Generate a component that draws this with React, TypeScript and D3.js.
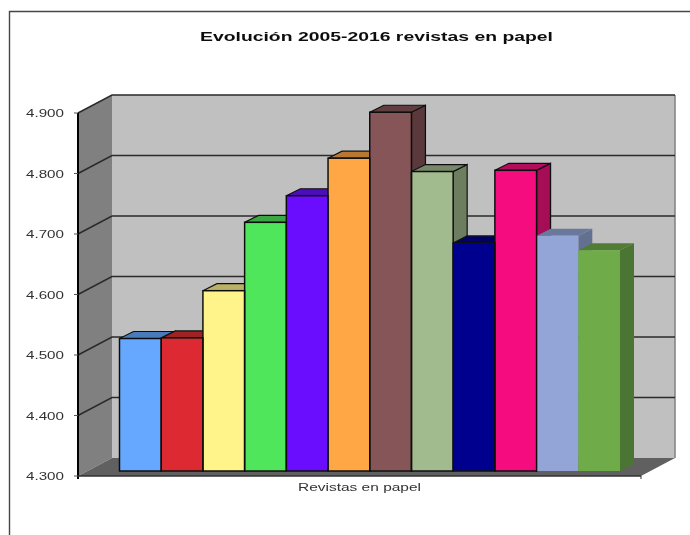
import { useEffect, useRef } from 'react';
import * as d3 from 'd3';

const YEARS = ['2005', '2006', '2007', '2008', '2009', '2010', '2011', '2012', '2013', '2014', '2015', '2016'];
const VALUES = [4519, 4520, 4598, 4711, 4755, 4817, 4893, 4795, 4677, 4797, 4689, 4665];
const COLORS = [
  '#66a8ff', '#dd2c30', '#fff48a', '#50e65c', '#6a0dff', '#ffa644',
  '#855558', '#a2bb8e', '#00008f', '#f50a80', '#93a5d6', '#70ab48',
];
const NO_OUTLINE = ['2015', '2016'];
const TICKS = [4300, 4400, 4500, 4600, 4700, 4800, 4900];
const TITLE = 'Evolución 2005-2016 revistas en papel';
const CATEGORY = 'Revistas en papel';

const WIDTH = 690;
const HEIGHT = 535;

export default function App() {
  const svgRef = useRef<SVGSVGElement>(null);

  useEffect(() => {
    if (!svgRef.current) return;
    const svg = d3.select(svgRef.current);
    svg.selectAll('*').remove();

    const defs = svg.append('defs');
    defs.append('filter').attr('id', 'soft')
      .append('feGaussianBlur').attr('stdDeviation', 0.5);

    const root = svg.append('g').attr('filter', 'url(#soft)');

    // chart frame, runs off the page on the right and at the bottom
    root.append('path')
      .attr('d', `M9.5,${HEIGHT} V11.5 H${WIDTH}`)
      .attr('fill', 'none').attr('stroke', '#444').attr('stroke-width', 1.4);

    const left = 78;
    const right = 641;
    const depthX = 34;
    const depthY = 18;
    const y = d3.scaleLinear().domain([4300, 4900]).range([476, 113]);

    const poly = (pts: number[][]) => d3.line()(pts as [number, number][]) + 'Z';

    // walls and floor
    root.append('path')
      .attr('d', poly([[left, y(4300)], [left + depthX, y(4300) - depthY], [left + depthX, y(4900) - depthY], [left, y(4900)]]))
      .attr('fill', '#808080');
    root.append('rect')
      .attr('x', left + depthX).attr('y', y(4900) - depthY)
      .attr('width', right - left).attr('height', y(4300) - y(4900))
      .attr('fill', '#c0c0c0');
    root.append('path')
      .attr('d', poly([[left, y(4300)], [left + depthX, y(4300) - depthY], [right + depthX, y(4300) - depthY], [right, y(4300)]]))
      .attr('fill', '#606060');

    // wall edges
    root.append('line')
      .attr('x1', right + depthX).attr('x2', right + depthX)
      .attr('y1', y(4900) - depthY).attr('y2', y(4300) - depthY)
      .attr('stroke', '#808080').attr('stroke-width', 1.5);

    // gridlines, back wall plus the return on the side wall
    const gridTicks = TICKS.filter(t => t > 4300);
    root.selectAll('path.grid').data(gridTicks).join('path')
      .attr('class', 'grid')
      .attr('d', t => `M${left},${y(t)} L${left + depthX},${y(t) - depthY} H${right + depthX}`)
      .attr('fill', 'none').attr('stroke', '#2a2a2a').attr('stroke-width', 1.5);

    // axis lines and ticks
    root.append('line')
      .attr('x1', left).attr('x2', left).attr('y1', y(4900)).attr('y2', y(4300) + 3)
      .attr('stroke', '#000').attr('stroke-width', 2);
    root.append('line')
      .attr('x1', left).attr('x2', right).attr('y1', y(4300)).attr('y2', y(4300))
      .attr('stroke', '#333').attr('stroke-width', 1.5);
    root.append('line')
      .attr('x1', right).attr('x2', right).attr('y1', y(4300)).attr('y2', y(4300) + 3)
      .attr('stroke', '#333').attr('stroke-width', 1);
    root.selectAll('line.tick').data(TICKS).join('line')
      .attr('class', 'tick')
      .attr('x1', left - 4).attr('x2', left).attr('y1', t => y(t)).attr('y2', t => y(t))
      .attr('stroke', '#555').attr('stroke-width', 1);

    root.selectAll('text.tick-label').data(TICKS).join('text')
      .attr('class', 'tick-label')
      .attr('x', 26).attr('y', t => y(t) + 4)
      .attr('textLength', 38).attr('lengthAdjust', 'spacingAndGlyphs')
      .attr('font-family', 'Liberation Sans').attr('font-size', 11).attr('fill', '#333')
      .text(t => d3.format('.3f')(t / 1000));

    // bars stand a little behind the front edge of the floor
    const barShiftX = 9.5;
    const barShiftY = 5;
    const barDepthX = 14;
    const barDepthY = 7;
    const x = d3.scaleBand<string>().domain(YEARS).range([left + barShiftX + 32, right + barShiftX - 30.5]);
    const w = x.bandwidth();
    const rows = YEARS.map((year, i) => ({ year, value: VALUES[i], color: COLORS[i] }));

    const bars = root.selectAll('g.bar').data(rows).join('g').attr('class', 'bar');
    const outline = (d: { year: string }) => (NO_OUTLINE.includes(d.year) ? 'none' : '#111');
    const base = y(4300) - barShiftY;
    const top = (v: number) => y(v) - barShiftY;

    bars.append('path')
      .attr('d', d => {
        const x1 = x(d.year)! + w;
        return poly([[x1, base], [x1 + barDepthX, base - barDepthY], [x1 + barDepthX, top(d.value) - barDepthY], [x1, top(d.value)]]);
      })
      .attr('fill', d => d3.rgb(d.color).darker(1.1).formatHex())
      .attr('stroke', outline).attr('stroke-width', 1.2);

    bars.append('path')
      .attr('d', d => {
        const x0 = x(d.year)!;
        const t = top(d.value);
        return poly([[x0, t], [x0 + barDepthX, t - barDepthY], [x0 + w + barDepthX, t - barDepthY], [x0 + w, t]]);
      })
      .attr('fill', d => d3.rgb(d.color).darker(0.9).formatHex())
      .attr('stroke', outline).attr('stroke-width', 1.2);

    bars.append('rect')
      .attr('x', d => x(d.year)!).attr('y', d => top(d.value))
      .attr('width', w).attr('height', d => base - top(d.value))
      .attr('fill', d => d.color);

    // outlines go on last so the unoutlined bars do not cut into a neighbour's edge
    root.selectAll('rect.bar-outline').data(rows).join('rect')
      .attr('class', 'bar-outline')
      .attr('x', d => x(d.year)!).attr('y', d => top(d.value))
      .attr('width', w).attr('height', d => base - top(d.value))
      .attr('fill', 'none')
      .attr('stroke', outline).attr('stroke-width', 1.5);

    root.append('text')
      .attr('x', 200).attr('y', 41)
      .attr('textLength', 353).attr('lengthAdjust', 'spacingAndGlyphs')
      .attr('font-family', 'Liberation Sans').attr('font-size', 13.5).attr('font-weight', 700).attr('fill', '#111')
      .text(TITLE);

    root.append('text')
      .attr('x', 298).attr('y', 491)
      .attr('textLength', 123).attr('lengthAdjust', 'spacingAndGlyphs')
      .attr('font-family', 'Liberation Sans').attr('font-size', 11).attr('fill', '#333')
      .text(CATEGORY);
  }, []);

  return (
    <svg
      ref={svgRef}
      width={WIDTH}
      height={HEIGHT}
      style={{ position: 'fixed', left: 0, top: 0, background: '#fff' }}
    />
  );
}
